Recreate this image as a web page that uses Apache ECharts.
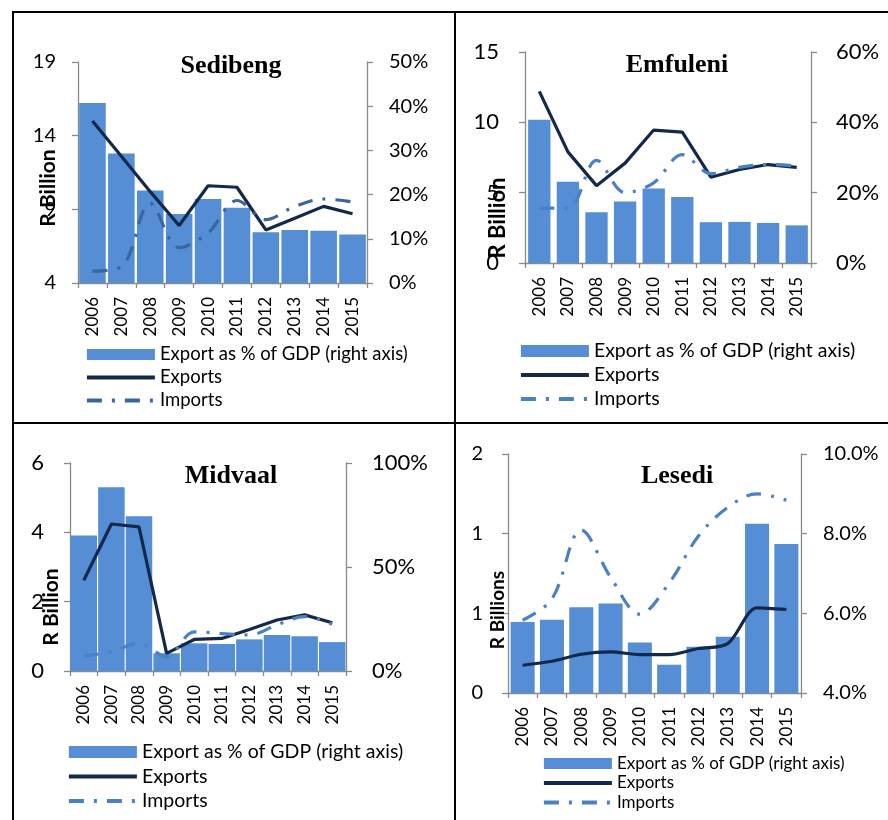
<!DOCTYPE html>
<html>
<head>
<meta charset="utf-8">
<script src="https://cdn.jsdelivr.net/npm/echarts@6/dist/echarts.min.js"></script>
<style>
  html, body { margin: 0; padding: 0; background: #fff; }
  #page { position: relative; width: 888px; height: 820px; overflow: hidden; background: #fff; }
  .panel { position: absolute; }
  .rule { position: absolute; background: #000; }
</style>
</head>
<body>
<div id="page">
  <div class="panel" id="p-sedibeng" style="left:0;top:0;width:455px;height:422px"></div>
  <div class="panel" id="p-emfuleni" style="left:455px;top:0;width:433px;height:422px"></div>
  <div class="panel" id="p-midvaal" style="left:0;top:422px;width:455px;height:398px"></div>
  <div class="panel" id="p-lesedi" style="left:455px;top:422px;width:433px;height:398px"></div>
  <div class="rule" style="left:12px;top:11px;width:876px;height:2px"></div>
  <div class="rule" style="left:12px;top:11px;width:2px;height:809px"></div>
  <div class="rule" style="left:454px;top:11px;width:2px;height:809px"></div>
  <div class="rule" style="left:12px;top:422px;width:876px;height:2px"></div>
</div>
<script>
// Years on the category axis
const years = ['2006', '2007', '2008', '2009', '2010', '2011', '2012', '2013', '2014', '2015'];

// Legend labels
const shareLabel = 'Export as % of GDP (right axis)';
const exportsLabel = 'Exports';
const importsLabel = 'Imports';

// Sedibeng: exports/imports in R billion, export share of GDP in %
const sedibengShare = [40.7, 29.3, 20.9, 15.6, 19.0, 17.0, 11.5, 12.0, 11.8, 11.0];
const sedibengExports = [15.0, 12.6, 10.2, 7.9, 10.6, 10.5, 7.6, 8.4, 9.2, 8.7];
const sedibengImports = [4.8, 5.1, 9.4, 6.4, 7.4, 9.6, 8.3, 9.2, 9.7, 9.5];

// Emfuleni
const emfuleniShare = [40.7, 23.1, 14.4, 17.5, 21.2, 18.8, 11.6, 11.7, 11.4, 10.7];
const emfuleniExports = [12.2, 7.9, 5.5, 7.1, 9.45, 9.3, 6.1, 6.65, 7.0, 6.8];
const emfuleniImports = [3.9, 3.9, 7.3, 5.0, 5.7, 7.7, 6.35, 6.8, 7.0, 6.9];

// Midvaal
const midvaalShare = [65.2, 88.3, 74.4, 8.5, 13.3, 13.0, 15.2, 17.3, 16.7, 13.9];
const midvaalExports = [2.62, 4.24, 4.16, 0.51, 0.91, 0.94, 1.2, 1.47, 1.62, 1.39];
const midvaalImports = [0.43, 0.56, 0.80, 0.41, 1.13, 1.08, 1.04, 1.33, 1.57, 1.35];

// Lesedi
const lesediShare = [5.78, 5.84, 6.15, 6.25, 5.27, 4.71, 5.16, 5.41, 8.25, 7.74];
const lesediExports = [0.174, 0.199, 0.243, 0.258, 0.241, 0.241, 0.279, 0.31, 0.534, 0.524];
const lesediImports = [0.457, 0.59, 1.023, 0.727, 0.495, 0.69, 0.985, 1.165, 1.25, 1.21];

const AXIS_GREY = '#8a8a8a';
const BAR_BLUE = '#558ed5';
const EXPORT_NAVY = '#13284a';
const SANS = 'Lato';
const IMPORT_DASH = [15, 10, 3, 10];

// Builds one municipality panel; all positions are page pixels, shifted into the panel's own box.
function panelOption(p) {
  const ox = p.origin[0], oy = p.origin[1];
  const axisLine = { show: true, lineStyle: { color: AXIS_GREY, width: 1.3 } };
  const axisTick = { show: true, length: 6, lineStyle: { color: AXIS_GREY, width: 1.3 } };
  const noSymbol = { opacity: 0 };
  return {
    animation: false,
    textStyle: { fontFamily: SANS },
    grid: {
      left: p.grid[0] - ox, top: p.grid[1] - oy, width: p.grid[2], height: p.grid[3],
      outerBoundsMode: 'none'
    },
    legend: {
      orient: 'vertical',
      left: p.legend.x - ox, top: p.legend.y - oy,
      padding: 0,
      itemWidth: 68, itemHeight: p.legend.itemHeight,
      itemGap: p.legend.gap,
      selectedMode: false,
      textStyle: { fontFamily: SANS, fontSize: p.legend.fontSize, lineHeight: p.legend.fontSize, color: '#000' },
      data: [
        { name: shareLabel, icon: 'rect' },
        { name: exportsLabel, itemStyle: noSymbol, lineStyle: { width: 3.8, color: EXPORT_NAVY } },
        { name: importsLabel, itemStyle: noSymbol, lineStyle: { width: 3.8, color: p.importColor, type: IMPORT_DASH } }
      ]
    },
    xAxis: {
      type: 'category', data: years, boundaryGap: true,
      axisLine: axisLine,
      axisTick: { show: true, length: 5, lineStyle: { color: AXIS_GREY, width: 1.3 } },
      axisLabel: { rotate: 90, margin: p.xMargin, fontSize: 17, color: '#000', fontFamily: SANS, interval: 0 }
    },
    yAxis: [
      {
        type: 'value', position: 'left',
        min: p.left.min, max: p.left.max, interval: p.left.interval,
        axisLine: axisLine, axisTick: axisTick, splitLine: { show: false },
        axisLabel: { fontSize: p.labelSize, margin: p.left.margin, color: '#000', fontFamily: SANS, formatter: p.left.fmt }
      },
      {
        type: 'value', position: 'right',
        min: p.right.min, max: p.right.max, interval: p.right.interval,
        startValue: p.right.min,
        axisLine: axisLine, axisTick: axisTick, splitLine: { show: false },
        axisLabel: { fontSize: p.labelSize, margin: p.right.margin, color: '#000', fontFamily: SANS, formatter: p.right.fmt }
      }
    ],
    series: [
      {
        name: shareLabel, type: 'bar', yAxisIndex: 1, data: p.share,
        barCategoryGap: p.barGap,
        itemStyle: { color: BAR_BLUE },
        z: 1
      },
      {
        name: exportsLabel, type: 'line', yAxisIndex: 0, data: p.exports,
        symbol: 'none', smooth: p.exportSmooth,
        itemStyle: { color: EXPORT_NAVY },
        lineStyle: { color: EXPORT_NAVY, width: 3.2 },
        z: 3
      },
      {
        name: importsLabel, type: 'line', yAxisIndex: 0, data: p.imports,
        symbol: 'none', smooth: 0.35,
        itemStyle: { color: p.importColor },
        lineStyle: { color: p.importColor, width: 3.2, type: IMPORT_DASH },
        z: 4
      }
    ],
    graphic: [
      {
        type: 'text', x: p.title.x - ox, y: p.title.y - oy, z: 10,
        style: { text: p.name, fontFamily: 'Liberation Serif', fontWeight: 'bold', fontSize: 26, fill: '#000', align: 'center', verticalAlign: 'middle' }
      },
      {
        type: 'text', x: p.yName.x - ox, y: p.yName.y - oy, rotation: Math.PI / 2, z: 10,
        style: { text: p.yName.text, fontFamily: SANS, fontWeight: 'bold', fontSize: p.yName.size, fill: '#000', align: 'center', verticalAlign: 'middle' }
      }
    ]
  };
}

const pct0 = v => v + '%';
const pct1 = v => v.toFixed(1) + '%';
const whole = v => String(Math.round(v));

const panels = [
  {
    id: 'p-sedibeng', name: 'Sedibeng', origin: [0, 0],
    grid: [78, 62, 289, 221], labelSize: 20, xMargin: 14,
    left: { min: 4, max: 19, interval: 5, margin: 22, fmt: whole },
    right: { min: 0, max: 50, interval: 10, margin: 22, fmt: pct0 },
    share: sedibengShare, exports: sedibengExports, imports: sedibengImports,
    barGap: '8%', exportSmooth: false, importColor: '#3a669f',
    title: { x: 231, y: 66 },
    yName: { text: 'R Billion', x: 48, y: 188, size: 21 },
    legend: { x: 85, y: 345, itemHeight: 11, gap: 4, fontSize: 18.5 }
  },
  {
    id: 'p-emfuleni', name: 'Emfuleni', origin: [455, 0],
    grid: [525, 52, 286, 211], labelSize: 22, xMargin: 14,
    left: { min: 0, max: 15, interval: 5, margin: 26, fmt: whole },
    right: { min: 0, max: 60, interval: 20, margin: 25, fmt: pct0 },
    share: emfuleniShare, exports: emfuleniExports, imports: emfuleniImports,
    barGap: '22%', exportSmooth: false, importColor: '#4a80c4',
    title: { x: 677, y: 65 },
    yName: { text: 'R Billion', x: 498, y: 218, size: 22 },
    legend: { x: 519, y: 341, itemHeight: 12, gap: 4, fontSize: 19.5 }
  },
  {
    id: 'p-midvaal', name: 'Midvaal', origin: [0, 422],
    grid: [70, 463, 276, 208], labelSize: 22, xMargin: 14,
    left: { min: 0, max: 6, interval: 2, margin: 26, fmt: whole },
    right: { min: 0, max: 100, interval: 50, margin: 26, fmt: pct0 },
    share: midvaalShare, exports: midvaalExports, imports: midvaalImports,
    barGap: '4%', exportSmooth: false, importColor: '#4a80c4',
    title: { x: 231, y: 476 },
    yName: { text: 'R Billion', x: 51, y: 607, size: 21 },
    legend: { x: 67, y: 742, itemHeight: 12, gap: 4.5, fontSize: 19.5 }
  },
  {
    id: 'p-lesedi', name: 'Lesedi', origin: [455, 422],
    grid: [508, 454, 293, 239], labelSize: 20, xMargin: 14,
    left: { min: 0, max: 1.5, interval: 0.5, margin: 25, fmt: whole },
    right: { min: 4, max: 10, interval: 2, margin: 22, fmt: pct1 },
    share: lesediShare, exports: lesediExports, imports: lesediImports,
    barGap: '18%', exportSmooth: 0.3, importColor: '#4a80c4',
    title: { x: 677, y: 476 },
    yName: { text: 'R Billions', x: 498, y: 610, size: 19 },
    legend: { x: 542, y: 755, itemHeight: 11, gap: 2.5, fontSize: 17 }
  }
];

panels.forEach(p => {
  const chart = echarts.init(document.getElementById(p.id), null, { renderer: 'canvas' });
  chart.setOption(panelOption(p));
});
</script>
</body>
</html>
